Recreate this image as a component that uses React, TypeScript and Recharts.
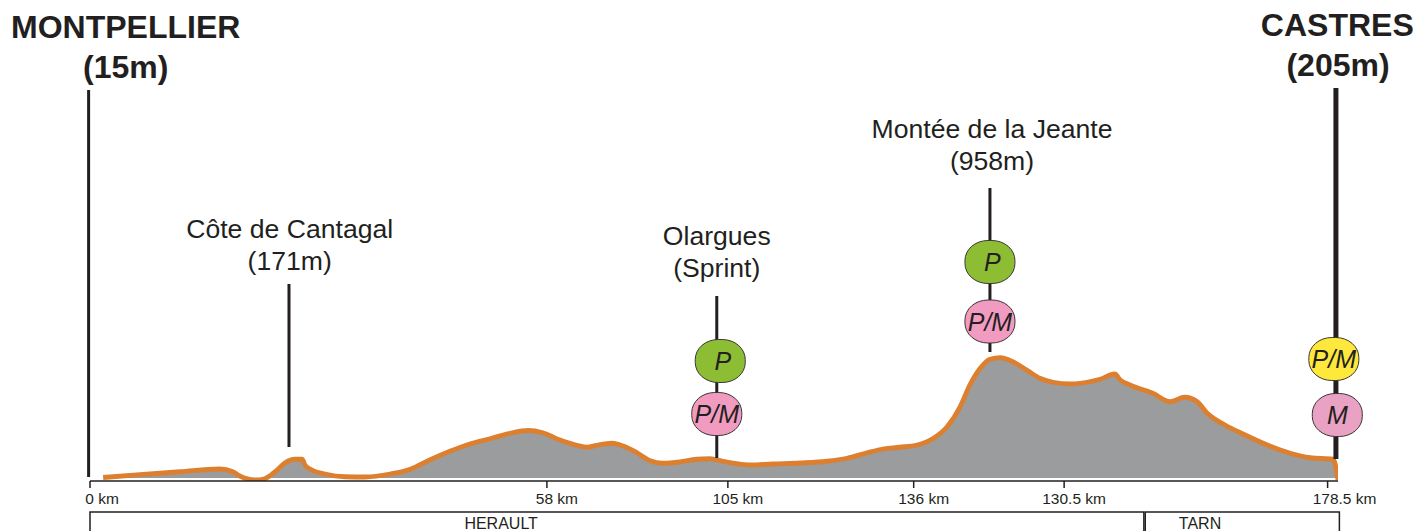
import React from "react";
import { ComposedChart, Area, XAxis, YAxis, ReferenceLine, ReferenceDot, ReferenceArea } from "recharts";

const km = [1.9,7.2,13.0,18.7,20.6,21.6,23.8,25.2,26.7,28.1,29.6,30.6,31.0,32.0,33.9,36.8,39.7,43.3,46.2,49.0,51.9,54.8,57.7,60.6,63.2,65.3,67.8,70.2,71.7,73.1,75.3,76.9,78.9,80.8,82.6,85.1,87.5,89.4,91.3,93.3,95.2,98.5,102.4,106.3,109.2,112.1,114.4,116.8,119.3,121.6,123.6,125.5,126.9,128.4,129.8,131.3,133.1,135.1,137.0,138.9,141.4,143.8,145.7,147.8,148.6,150.0,153.3,155.8,157.9,159.7,161.1,163.7,166.3,169.8,173.1,176.0,179.3,180.0];
const elevation = [12,35,58,80,58,24,-8,2,58,128,158,158,112,72,40,18,16,40,78,152,222,280,322,366,388,370,312,270,254,270,286,264,210,146,126,136,158,162,142,122,112,120,128,142,166,210,240,254,272,324,416,578,752,886,958,970,938,872,806,774,760,774,798,840,792,752,686,618,654,618,528,432,360,272,206,170,158,-8];

const tickPositions = [0, 65.9, 92, 118.8, 140.5, 178.5];
const tickLabels = ["0 km", "58 km", "105 km", "136 km", "130.5 km", "178.5 km"];

const poles = [
  { km: -0.2, from: 16, to: 3112, width: 3 },
  { km: 28.7, from: 256, to: 1560, width: 3 },
  { km: 90.4, from: 168, to: 1464, width: 3 },
  { km: 129.8, from: 1016, to: 2328, width: 3 },
  { km: 179.7, from: 160, to: 3128, width: 5 },
];

const titles = [
  { text: "MONTPELLIER", km: 5.15, m: 3616, bold: true },
  { text: "(15m)", km: 5.15, m: 3296, bold: true },
  { text: "CASTRES", km: 179.9, m: 3632, bold: true },
  { text: "(205m)", km: 180, m: 3312, bold: true },
  { text: "Côte de Cantagal", km: 28.8, m: 2000, bold: false },
  { text: "(171m)", km: 28.8, m: 1744, bold: false },
  { text: "Olargues", km: 90.4, m: 1944, bold: false },
  { text: "(Sprint)", km: 90.4, m: 1688, bold: false },
  { text: "Montée de la Jeante", km: 130.1, m: 2800, bold: false },
  { text: "(958m)", km: 130.1, m: 2544, bold: false },
];

const badges = [
  { text: "P", km: 90.9, m: 944, fill: "#8cbd33" },
  { text: "P/M", km: 90.4, m: 520, fill: "#f29bc1" },
  { text: "P", km: 129.8, m: 1736, fill: "#8cbd33" },
  { text: "P/M", km: 129.8, m: 1260, fill: "#f29bc1" },
  { text: "P/M", km: 179.4, m: 960, fill: "#ffe83c" },
  { text: "M", km: 179.9, m: 512, fill: "#e9a1c4" },
];

const regions = [
  { name: "HERAULT", x1: 0, x2: 152.0, labelKm: 59.3 },
  { name: "TARN", x1: 152.2, x2: 180.2, labelKm: 160.1 },
];

const chartData = km.map((k, i) => ({ km: k, m: elevation[i] }));
const FONT = "'Liberation Sans', Arial, sans-serif";
const INK = "#231f20";

function AxisTick(props: any) {
  const { x, y, payload, index } = props;
  const shift = index === 0 ? 12 : index === tickLabels.length - 1 ? 17 : 10;
  const i = tickPositions.indexOf(payload.value);
  return (
    <text x={x + shift} y={y + 4} textAnchor="middle" dominantBaseline="middle" fontFamily={FONT} fontSize={15.5} fill={INK}>
      {tickLabels[i]}
    </text>
  );
}

const titleShape = (text: string, bold: boolean) => (p: any) => (
  <text x={p.cx} y={p.cy} textAnchor="middle" dominantBaseline="central" fontFamily={FONT} fontSize={bold ? 32 : 26.6} fontWeight={bold ? 700 : 400} fill={INK}>
    {text}
  </text>
);

const badgeShape = (text: string, fill: string) => (p: any) => (
  <g>
    <rect x={p.cx - 25} y={p.cy - 21.5} width={50} height={43} rx={23} ry={20} fill={fill} stroke="#3a3637" strokeWidth={1} />
    <text x={p.cx + (text === "P" ? 2.5 : 0)} y={p.cy} textAnchor="middle" dominantBaseline="central" fontFamily={FONT} fontSize={25} fontStyle="italic" fill={INK}>
      {text}
    </text>
  </g>
);

const regionLabel = (text: string) => (p: any) => (
  <text x={p.cx} y={p.cy} textAnchor="middle" dominantBaseline="central" fontFamily={FONT} fontSize={16} fill={INK}>
    {text}
  </text>
);

export default function App() {
  return (
    <div style={{ position: "absolute", left: 0, top: 0 }}>
      <ComposedChart width={1418} height={531} data={chartData} margin={{ top: 0, right: 80, bottom: 0, left: 90 }}>
        <XAxis
          dataKey="km"
          type="number"
          domain={[0, 180]}
          ticks={tickPositions}
          interval={0}
          height={50}
          tickSize={7}
          tickMargin={8}
          stroke={INK}
          strokeWidth={1.5}
          tick={<AxisTick />}
          allowDataOverflow
        />
        <YAxis hide type="number" domain={[-16, 3832]} allowDataOverflow />
        {poles.map((p, i) => (
          <ReferenceLine
            key={"pole" + i}
            segment={[{ x: p.km, y: p.from }, { x: p.km, y: p.to }]}
            stroke={INK}
            strokeWidth={p.width}
            ifOverflow="visible"
          />
        ))}
        <Area
          dataKey="m"
          type="monotone"
          baseValue={8}
          stroke="#dc7f2f"
          strokeWidth={4.8}
          fill="#9b9c9e"
          fillOpacity={1}
          dot={false}
          activeDot={false}
          isAnimationActive={false}
        />
        {badges.map((b, i) => (
          <ReferenceDot key={"badge" + i} x={b.km} y={b.m} r={0} ifOverflow="visible" shape={badgeShape(b.text, b.fill)} />
        ))}
        {titles.map((t, i) => (
          <ReferenceDot key={"title" + i} x={t.km} y={t.m} r={0} ifOverflow="visible" shape={titleShape(t.text, t.bold)} />
        ))}
        {regions.map((r, i) => (
          <ReferenceArea key={"region" + i} x1={r.x1} x2={r.x2} y1={-264} y2={-488} fill="#ffffff" fillOpacity={0} stroke={INK} strokeWidth={1.5} ifOverflow="visible" />
        ))}
        {regions.map((r, i) => (
          <ReferenceDot key={"regionLabel" + i} x={r.labelKm} y={-352} r={0} ifOverflow="visible" shape={regionLabel(r.name)} />
        ))}
      </ComposedChart>
    </div>
  );
}
